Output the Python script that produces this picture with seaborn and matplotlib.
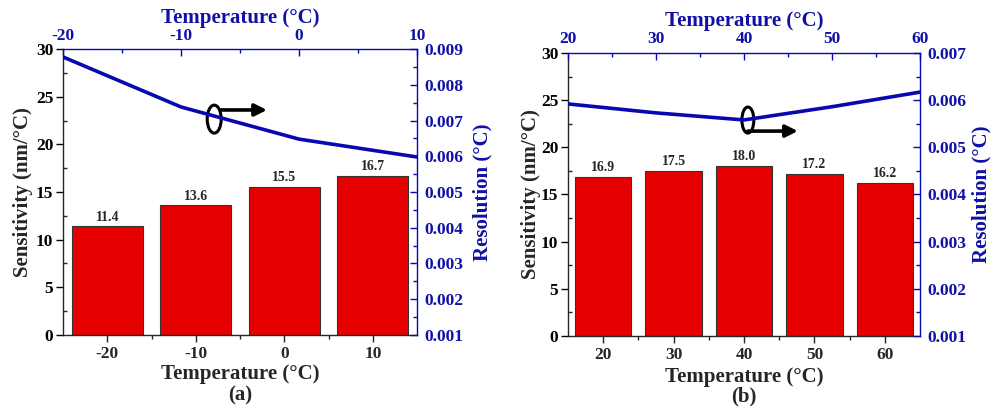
import seaborn as sns
import matplotlib.pyplot as plt
import matplotlib.ticker as ticker
from matplotlib.patches import Ellipse

# panel (a): low temperature range
temps_a = [-20, -10, 0, 10]
sens_a = [11.4, 13.6, 15.5, 16.7]
res_a = [0.00878, 0.00738, 0.00648, 0.00598]

# panel (b): high temperature range
temps_b = [20, 30, 40, 50, 60]
sens_b = [16.9, 17.5, 18.0, 17.2, 16.2]
res_b = [0.00592, 0.00573, 0.00558, 0.00586, 0.00617]

RED = '#e60000'
BLUE = '#0808b0'
TXT_BLUE = '#1010a8'

sns.set_style('ticks')
plt.rcParams['font.family'] = ['Liberation Serif', 'DejaVu Serif']
plt.rcParams['font.weight'] = 'bold'
plt.rcParams['axes.labelweight'] = 'bold'
plt.rcParams['axes.linewidth'] = 1.0
plt.rcParams['axes.unicode_minus'] = False

fig = plt.figure(figsize=(9.92, 4.09), dpi=100)


def panel(rect, temps, sens, res, res_lim, tag, ell, arr, lab):
    ax = fig.add_axes(rect)
    sns.barplot(x=temps, y=sens, color=RED, saturation=1, width=0.8,
                edgecolor='#333333', linewidth=0.8, ax=ax)
    ax.bar_label(ax.containers[0], fmt='%.1f', padding=2, fontsize=10, fontweight='bold')
    n = len(temps)
    ax.set_xlim(-0.5, n - 0.5)
    ax.set_ylim(0, 30)
    ax.yaxis.set_major_locator(ticker.MultipleLocator(5))
    ax.yaxis.set_minor_locator(ticker.MultipleLocator(2.5))
    ax.xaxis.set_minor_locator(ticker.FixedLocator([i + 0.5 for i in range(n - 1)]))
    ax.tick_params(axis='y', which='major', direction='out', length=5, width=1, labelsize=12.5, pad=2, colors='black')
    ax.tick_params(axis='y', which='minor', direction='in', length=3, width=1)
    ax.tick_params(axis='x', which='major', direction='out', length=5, width=1, labelsize=12.5, pad=3)
    ax.tick_params(axis='x', which='minor', direction='out', length=3, width=1)
    ax.set_xlabel('Temperature (°C)', fontsize=15)
    ax.set_ylabel('Sensitivity (nm/°C)', fontsize=15)
    ax.xaxis.set_label_coords(0.5, lab[0])
    ax.yaxis.set_label_coords(lab[1], 0.5)
    ax.spines['top'].set_visible(False)
    ax.spines['right'].set_visible(False)
    ax.text(0.5, lab[2], tag, transform=ax.transAxes, ha='center', va='center', fontsize=15)

    ax2 = ax.twinx()
    ax3 = ax2.twiny()
    sns.lineplot(x=temps, y=res, color=BLUE, linewidth=2.6, ax=ax3)
    ax2.set_ylim(*res_lim)
    ax3.set_xlim(temps[0], temps[-1])
    ax2.yaxis.set_major_locator(ticker.MultipleLocator(0.001))
    ax2.yaxis.set_minor_locator(ticker.MultipleLocator(0.0005))
    ax2.yaxis.set_major_formatter(ticker.FormatStrFormatter('%.3f'))
    ax2.tick_params(axis='y', which='major', direction='in', length=5, width=1, labelsize=12.5,
                    pad=5, colors=BLUE, labelcolor=TXT_BLUE)
    ax2.tick_params(axis='y', which='minor', direction='in', length=3, width=1, colors=BLUE)
    ax2.set_ylabel('Resolution (°C)', fontsize=15, color=TXT_BLUE)
    ax2.yaxis.set_label_coords(lab[3], 0.5)
    step = temps[1] - temps[0]
    ax3.xaxis.set_major_locator(ticker.MultipleLocator(step))
    ax3.xaxis.set_minor_locator(ticker.MultipleLocator(step / 2))
    ax3.tick_params(axis='x', which='major', direction='in', length=5, width=1, labelsize=12.5,
                    pad=4, colors=BLUE, labelcolor=TXT_BLUE)
    ax3.tick_params(axis='x', which='minor', direction='in', length=3, width=1, colors=BLUE)
    ax3.set_xlabel('Temperature (°C)', fontsize=15, color=TXT_BLUE)
    ax3.xaxis.set_label_coords(0.5, lab[4])
    ax3.set_ylabel('')

    for s in ['left', 'bottom', 'top']:
        ax2.spines[s].set_visible(False)
    ax2.spines['right'].set_color(BLUE)
    for s in ['left', 'bottom', 'right']:
        ax3.spines[s].set_visible(False)
    ax3.spines['top'].set_color(BLUE)

    # "circle + arrow" marker pointing at the right axis
    ax3.add_patch(Ellipse((ell[0], ell[1]), ell[2], ell[3], transform=ax3.transAxes,
                          fill=False, lw=2.2, ec='black'))
    ax3.annotate('', xy=(arr[1], arr[2]), xytext=(arr[0], arr[2]), xycoords='axes fraction',
                 arrowprops=dict(arrowstyle='-|>', lw=2.6, color='black', mutation_scale=18,
                                 shrinkA=0, shrinkB=0))
    return ax


panel([0.0635, 0.181, 0.357, 0.699], temps_a, sens_a, res_a, (0.001, 0.009), '(a)',
      (0.427, 0.755, 0.0395, 0.098), (0.446, 0.576, 0.787),
      (-0.1, -0.085, -0.213, 1.155, 1.09))
panel([0.5726, 0.1785, 0.3548, 0.692], temps_b, sens_b, res_b, (0.001, 0.007), '(b)',
      (0.511, 0.763, 0.034, 0.092), (0.511, 0.653, 0.724),
      (-0.108, -0.077, -0.212, 1.145, 1.095))

fig.savefig('out.png', dpi=100)
